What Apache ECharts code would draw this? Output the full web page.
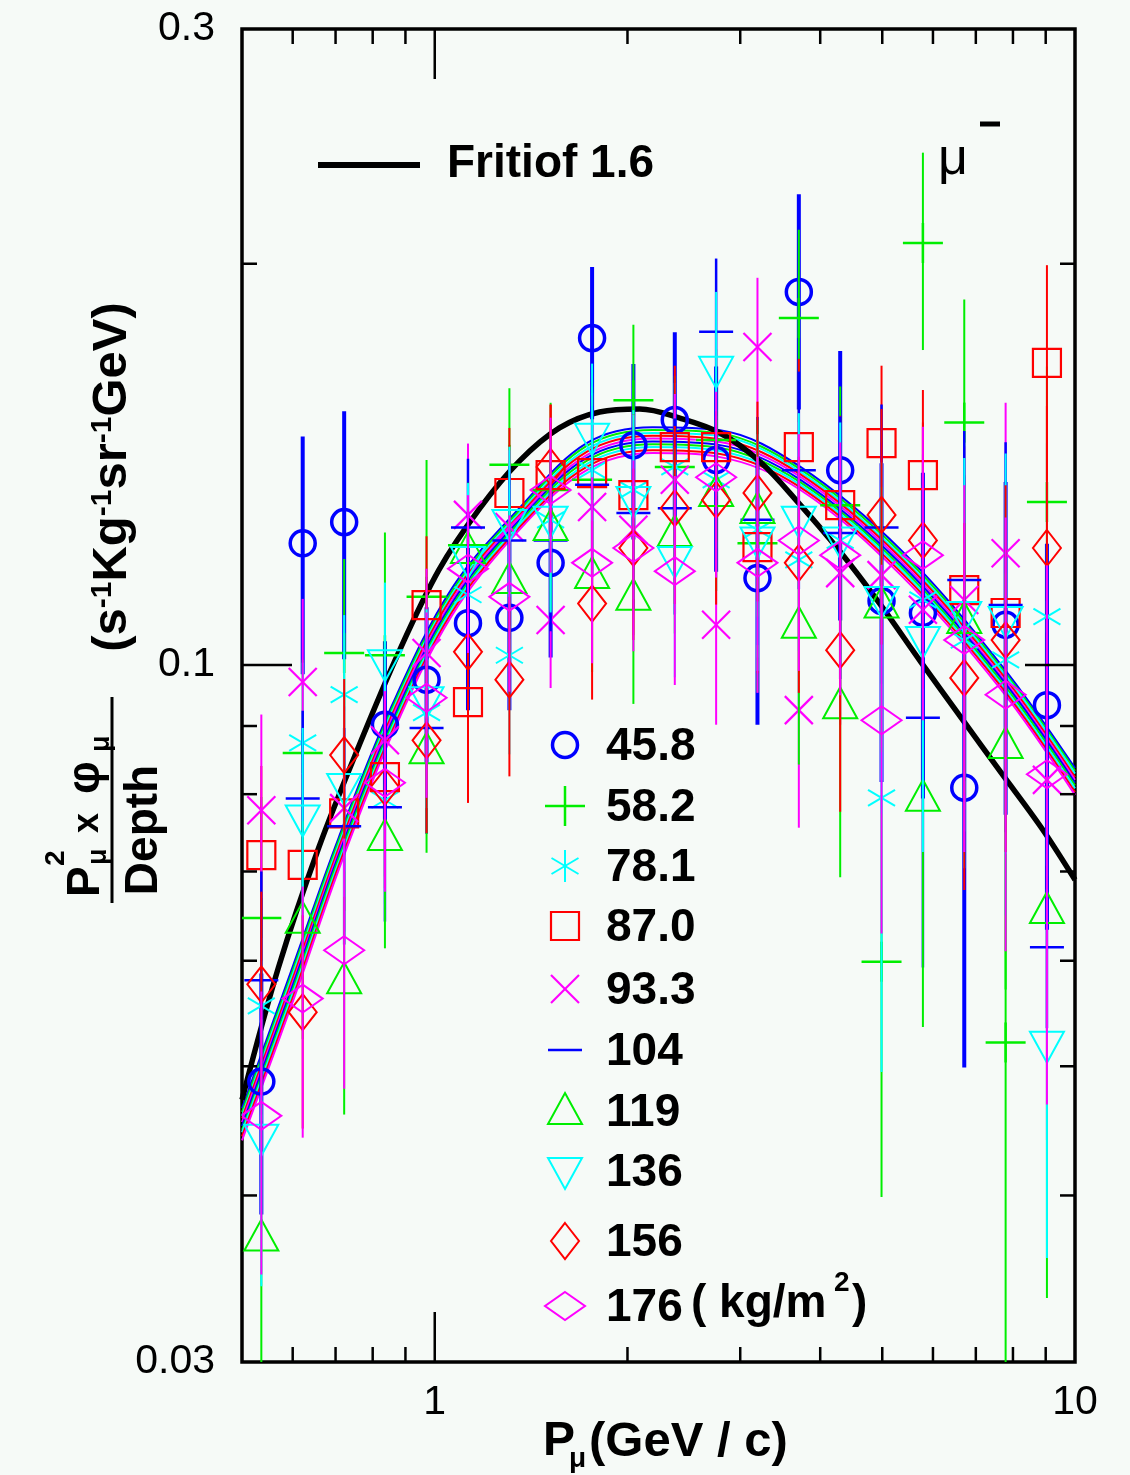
<!DOCTYPE html>
<html>
<head>
<meta charset="utf-8">
<script src="https://cdn.jsdelivr.net/npm/echarts@6/dist/echarts.min.js"></script>
<style>
  html, body { margin: 0; padding: 0; background: #f6faf7; }
  #chart { width: 1130px; height: 1475px; }
</style>
</head>
<body>
<div id="chart"></div>
<script>
// ---- momentum bins (GeV/c) shared by every atmospheric depth ----
const momenta = [0.536, 0.622, 0.722, 0.836, 0.971, 1.127, 1.308, 1.517, 1.761, 2.043,
                 2.371, 2.751, 3.192, 3.704, 4.298, 4.987, 5.787, 6.715, 7.792, 9.04];

// ---- atmospheric depths (kg/m^2) ----
const depths = ['45.8', '58.2', '78.1', '87.0', '93.3', '104', '119', '136', '156', '176'];

// ---- measured P^2 x flux / depth and errors, one pair per depth ----
const val458 = [0.0487, 0.1234, 0.1280, 0.0902, 0.0975, 0.1075, 0.1085, 0.1193, 0.1759, 0.1462, 0.1527, 0.1425, 0.1162, 0.1905, 0.1400, 0.1117, 0.1094, 0.0809, 0.1072, 0.0933];
const err458 = [0.010, 0.025, 0.027, 0.014, 0.013, 0.015, 0.016, 0.018, 0.023, 0.022, 0.025, 0.025, 0.026, 0.035, 0.032, 0.030, 0.030, 0.031, 0.030, 0.030];

const val582 = [0.0646, 0.0859, 0.1021, 0.1017, 0.1125, 0.1230, 0.1413, 0.1353, 0.1377, 0.1580, 0.1408, 0.1475, 0.1234, 0.1821, 0.1318, 0.0599, 0.2073, 0.1520, 0.0521, 0.1325];
const err582 = [0.015, 0.015, 0.018, 0.024, 0.030, 0.020, 0.020, 0.022, 0.024, 0.022, 0.024, 0.025, 0.028, 0.030, 0.030, 0.020, 0.035, 0.036, 0.030, 0.035];

const val781 = [0.0555, 0.0874, 0.0950, 0.0792, 0.0921, 0.1129, 0.1017, 0.1285, 0.1400, 0.1353, 0.1408, 0.1377, 0.1263, 0.1199, 0.1240, 0.0795, 0.1119, 0.1044, 0.1009, 0.1087];
const err781 = [0.010, 0.013, 0.014, 0.013, 0.014, 0.016, 0.016, 0.018, 0.020, 0.020, 0.022, 0.024, 0.025, 0.027, 0.028, 0.030, 0.032, 0.034, 0.036, 0.038];

const val870 = [0.0720, 0.0708, 0.0774, 0.0824, 0.1109, 0.0938, 0.1346, 0.1388, 0.1393, 0.1341, 0.1457, 0.1457, 0.1226, 0.1457, 0.1318, 0.1467, 0.1388, 0.1138, 0.1094, 0.1685];
const err870 = [0.012, 0.012, 0.012, 0.013, 0.014, 0.015, 0.016, 0.018, 0.020, 0.020, 0.022, 0.022, 0.024, 0.024, 0.022, 0.021, 0.022, 0.025, 0.028, 0.031];

const val933 = [0.0778, 0.0971, 0.0781, 0.0878, 0.1021, 0.1296, 0.1269, 0.1081, 0.1314, 0.1263, 0.1377, 0.1072, 0.1732, 0.0925, 0.1172, 0.1168, 0.1100, 0.1119, 0.1213, 0.0820];
const err933 = [0.014, 0.015, 0.015, 0.015, 0.016, 0.017, 0.018, 0.012, 0.020, 0.021, 0.022, 0.017, 0.022, 0.017, 0.027, 0.030, 0.032, 0.034, 0.036, 0.038];

const val104 = [0.0580, 0.0794, 0.0757, 0.0782, 0.0897, 0.1268, 0.1240, 0.1240, 0.1365, 0.1300, 0.1311, 0.1778, 0.1285, 0.1400, 0.1256, 0.1268, 0.0913, 0.1158, 0.1109, 0.0614];
const err104 = [0.012, 0.013, 0.014, 0.014, 0.015, 0.016, 0.017, 0.018, 0.020, 0.020, 0.022, 0.024, 0.025, 0.026, 0.028, 0.030, 0.032, 0.034, 0.036, 0.008];

const val119 = [0.0372, 0.0644, 0.0580, 0.0743, 0.0863, 0.1220, 0.1158, 0.1269, 0.1168, 0.1125, 0.1256, 0.1346, 0.1307, 0.1072, 0.0933, 0.1110, 0.0795, 0.1081, 0.0871, 0.0655];
const err119 = [0.010, 0.012, 0.012, 0.013, 0.014, 0.015, 0.016, 0.017, 0.018, 0.019, 0.020, 0.021, 0.022, 0.023, 0.024, 0.025, 0.026, 0.028, 0.030, 0.032];

const val136 = [0.0442, 0.0767, 0.0810, 0.1003, 0.0941, 0.1199, 0.1278, 0.1285, 0.1483, 0.1330, 0.1199, 0.1665, 0.1240, 0.1285, 0.1240, 0.1119, 0.1044, 0.1090, 0.1081, 0.0519];
const err136 = [0.010, 0.013, 0.014, 0.015, 0.016, 0.017, 0.018, 0.019, 0.020, 0.021, 0.022, 0.024, 0.025, 0.026, 0.028, 0.030, 0.032, 0.034, 0.036, 0.016];

const val156 = [0.0576, 0.0549, 0.0856, 0.0810, 0.0878, 0.1023, 0.0975, 0.1408, 0.1112, 0.1224, 0.1311, 0.1330, 0.1346, 0.1193, 0.1026, 0.1296, 0.1240, 0.0978, 0.1044, 0.1224];
const err156 = [0.010, 0.010, 0.012, 0.013, 0.013, 0.014, 0.015, 0.016, 0.017, 0.018, 0.020, 0.022, 0.023, 0.024, 0.025, 0.026, 0.028, 0.030, 0.032, 0.034];

const val176 = [0.0459, 0.0562, 0.0611, 0.0816, 0.0945, 0.1181, 0.1125, 0.1353, 0.1193, 0.1224, 0.1176, 0.1383, 0.1193, 0.1240, 0.1209, 0.0909, 0.1209, 0.1044, 0.0950, 0.0828];
const err176 = [0.011, 0.012, 0.013, 0.014, 0.015, 0.016, 0.017, 0.018, 0.019, 0.020, 0.021, 0.022, 0.024, 0.025, 0.026, 0.028, 0.030, 0.032, 0.034, 0.036];

// ---- Fritiof 1.6 prediction ----
const fritiofMomenta = [0.5, 0.570, 0.6586, 0.7609, 0.879, 1.0157, 1.1735, 1.3557, 1.566, 1.809, 2.09,
                        2.415, 2.791, 3.225, 3.726, 4.304, 4.974, 5.746, 6.639, 7.671, 8.862, 10];
const fritiofFlux = [0.0472, 0.0593, 0.0729, 0.0869, 0.1023, 0.1179, 0.1309, 0.1422, 0.1506, 0.1548, 0.1556,
                     0.1532, 0.1493, 0.1420, 0.1318, 0.1215, 0.1109, 0.1005, 0.0913, 0.0830, 0.0755, 0.0690];

// ---- model curves for each depth ----
const modelMomenta = [0.5, 0.6017, 0.7079, 0.857, 1.0644, 1.3557, 1.727, 2.191, 2.791, 3.726, 5.346, 7.671, 10];
const model458 = [0.0465, 0.0596, 0.0742, 0.0932, 0.1142, 0.1311, 0.1467, 0.1508, 0.1500, 0.1408, 0.1220, 0.1000, 0.0837];
const model582 = [0.0462, 0.0592, 0.0738, 0.0927, 0.1136, 0.1306, 0.1460, 0.1501, 0.1492, 0.1402, 0.1214, 0.0995, 0.0833];
const model781 = [0.0459, 0.0588, 0.0733, 0.0922, 0.1130, 0.1300, 0.1452, 0.1493, 0.1485, 0.1396, 0.1208, 0.0991, 0.0829];
const model870 = [0.0457, 0.0584, 0.0729, 0.0917, 0.1125, 0.1295, 0.1445, 0.1486, 0.1477, 0.1390, 0.1203, 0.0986, 0.0824];
const model933 = [0.0454, 0.0580, 0.0724, 0.0912, 0.1119, 0.1290, 0.1437, 0.1479, 0.1470, 0.1384, 0.1197, 0.0981, 0.0820];
const model104 = [0.0451, 0.0577, 0.0720, 0.0906, 0.1113, 0.1284, 0.1430, 0.1471, 0.1462, 0.1377, 0.1191, 0.0977, 0.0816];
const model119 = [0.0448, 0.0573, 0.0716, 0.0901, 0.1107, 0.1279, 0.1423, 0.1464, 0.1455, 0.1371, 0.1185, 0.0972, 0.0812];
const model136 = [0.0446, 0.0569, 0.0711, 0.0896, 0.1102, 0.1274, 0.1415, 0.1457, 0.1447, 0.1365, 0.1180, 0.0967, 0.0808];
const model156 = [0.0443, 0.0565, 0.0707, 0.0891, 0.1096, 0.1268, 0.1408, 0.1449, 0.1440, 0.1359, 0.1174, 0.0963, 0.0803];
const model176 = [0.0440, 0.0561, 0.0702, 0.0886, 0.1090, 0.1263, 0.1400, 0.1442, 0.1432, 0.1353, 0.1168, 0.0958, 0.0799];

// ---- axis ticks and labels ----
const xMajorTicks = [1];
const xMinorTicks = [0.6, 0.7, 0.8, 0.9, 2, 3, 4, 5, 6, 7, 8, 9];
const yMajorTicks = [0.1];
const yMinorTicks = [0.04, 0.05, 0.06, 0.07, 0.08, 0.09, 0.2];
const xTickLabels = [1, 10];
const yTickLabels = [0.03, 0.1, 0.3];

const FONT = '"Liberation Sans", Arial, Helvetica, sans-serif';
const BLUE = '#0000ff', GREEN = '#00ee00', CYAN = '#00ffff', RED = '#ff0000', MAGENTA = '#ff00ff';

// one entry per depth: data arrays plus drawing style
const sets = [
  { name: depths[0], values: val458, errors: err458, model: model458, color: BLUE,    marker: 'circle',      bar: 4 },
  { name: depths[1], values: val582, errors: err582, model: model582, color: GREEN,   marker: 'plus',        bar: 2 },
  { name: depths[2], values: val781, errors: err781, model: model781, color: CYAN,    marker: 'asterisk',    bar: 2 },
  { name: depths[3], values: val870, errors: err870, model: model870, color: RED,     marker: 'square',      bar: 2 },
  { name: depths[4], values: val933, errors: err933, model: model933, color: MAGENTA, marker: 'cross',       bar: 2 },
  { name: depths[5], values: val104, errors: err104, model: model104, color: BLUE,    marker: 'dash',        bar: 2.5 },
  { name: depths[6], values: val119, errors: err119, model: model119, color: GREEN,   marker: 'triUp',       bar: 2 },
  { name: depths[7], values: val136, errors: err136, model: model136, color: CYAN,    marker: 'triDown',     bar: 2 },
  { name: depths[8], values: val156, errors: err156, model: model156, color: RED,     marker: 'diamondTall', bar: 2 },
  { name: depths[9], values: val176, errors: err176, model: model176, color: MAGENTA, marker: 'diamondWide', bar: 2 }
];

function seg(x1, y1, x2, y2, color, lw) {
  return { type: 'line', shape: { x1, y1, x2, y2 }, style: { stroke: color, lineWidth: lw } };
}
function poly(points, color, lw) {
  return { type: 'polygon', shape: { points }, style: { stroke: color, fill: 'none', lineWidth: lw } };
}

// marker glyphs drawn as zrender elements (used by the plot and the key)
function markerShapes(kind, cx, cy, color) {
  switch (kind) {
    case 'circle':
      return [{ type: 'circle', shape: { cx, cy, r: 12.5 }, style: { stroke: color, fill: 'none', lineWidth: 3.5 } }];
    case 'plus':
      return [seg(cx - 20, cy, cx + 20, cy, color, 2.5), seg(cx, cy - 20, cx, cy + 20, color, 2.5)];
    case 'asterisk':
      return [seg(cx, cy - 16, cx, cy + 16, color, 2),
              seg(cx - 13.5, cy - 8, cx + 13.5, cy + 8, color, 2),
              seg(cx - 13.5, cy + 8, cx + 13.5, cy - 8, color, 2)];
    case 'square':
      return [{ type: 'rect', shape: { x: cx - 14, y: cy - 14, width: 28, height: 28 }, style: { stroke: color, fill: 'none', lineWidth: 2.2 } }];
    case 'cross':
      return [seg(cx - 14, cy - 14, cx + 14, cy + 14, color, 2.2), seg(cx - 14, cy + 14, cx + 14, cy - 14, color, 2.2)];
    case 'dash':
      return [seg(cx - 17, cy, cx + 17, cy, color, 2.5)];
    case 'triUp':
      return [poly([[cx, cy - 18], [cx + 17, cy + 13], [cx - 17, cy + 13]], color, 2)];
    case 'triDown':
      return [poly([[cx, cy + 18], [cx + 17, cy - 13], [cx - 17, cy - 13]], color, 2)];
    case 'diamondTall':
      return [poly([[cx, cy - 18], [cx + 14, cy], [cx, cy + 18], [cx - 14, cy]], color, 2)];
    case 'diamondWide':
      return [poly([[cx, cy - 14], [cx + 20, cy], [cx, cy + 14], [cx - 20, cy]], color, 2)];
  }
  return [];
}

// data points with vertical error bars
function dataSeries(set) {
  return {
    type: 'custom',
    name: set.name,
    clip: true,
    z: 5,
    encode: { x: 0, y: 1 },
    data: momenta.map((p, i) => [p, set.values[i], set.errors[i]]),
    renderItem(params, api) {
      const x = api.value(0), y = api.value(1), e = api.value(2);
      const c = api.coord([x, y]);
      const top = api.coord([x, y + e]);
      const bot = api.coord([x, Math.max(y - e, 1e-4)]);
      const children = [seg(c[0], top[1], c[0], bot[1], set.color, set.bar)]
        .concat(markerShapes(set.marker, c[0], c[1], set.color));
      return { type: 'group', children };
    }
  };
}

// inward tick marks on opposite sides of the frame
function tickSeries(values, dir, len) {
  return {
    type: 'custom',
    silent: true,
    clip: false,
    z: 10,
    data: values.map(v => dir === 'x' ? [v, 0.1] : [1, v]),
    renderItem(params, api) {
      const p = api.coord([api.value(0), api.value(1)]);
      const cs = params.coordSys;
      if (dir === 'x') {
        return { type: 'group', children: [
          seg(p[0], cs.y + cs.height, p[0], cs.y + cs.height - len, '#000', 2.5),
          seg(p[0], cs.y, p[0], cs.y + len, '#000', 2.5)
        ] };
      }
      return { type: 'group', children: [
        seg(cs.x, p[1], cs.x + len, p[1], '#000', 2.5),
        seg(cs.x + cs.width, p[1], cs.x + cs.width - len, p[1], '#000', 2.5)
      ] };
    }
  };
}

function pickLabel(v, list) {
  for (const l of list) {
    if (Math.abs(Math.log10(v / l)) < 0.01) return String(l);
  }
  return '';
}

const series = [];
sets.forEach(s => {
  series.push({
    type: 'line', name: s.name + ' model', silent: true, z: 2,
    data: modelMomenta.map((p, i) => [p, s.model[i]]),
    showSymbol: false, smooth: 0.35,
    lineStyle: { color: s.color, width: 2 }
  });
});
series.push({
  type: 'line', name: 'Fritiof 1.6', silent: true, z: 3,
  data: fritiofMomenta.map((p, i) => [p, fritiofFlux[i]]),
  showSymbol: false, smooth: 0.35,
  lineStyle: { color: '#000', width: 5.5 }
});
sets.forEach(s => series.push(dataSeries(s)));
series.push(tickSeries(xMajorTicks, 'x', 50));
series.push(tickSeries(xMinorTicks, 'x', 15));
series.push(tickSeries(yMajorTicks, 'y', 50));
series.push(tickSeries(yMinorTicks, 'y', 15));

// key: marker + depth label
const keyX = 565, keyTextX = 606;
const keyY = [745, 806, 866, 926, 989, 1050, 1111, 1171, 1241, 1306];
const keyElements = [];
sets.forEach((s, i) => {
  markerShapes(s.marker, keyX, keyY[i], s.color).forEach(el => keyElements.push(el));
  keyElements.push({
    type: 'text', x: keyTextX, y: keyY[i] + 2,
    style: { text: s.name, font: 'bold 46px ' + FONT, fill: '#000', textAlign: 'left', textVerticalAlign: 'middle' }
  });
});
keyElements.push({ type: 'text', x: 691, y: 1304,
  style: { text: '( kg/m', font: 'bold 46px ' + FONT, fill: '#000', textAlign: 'left', textVerticalAlign: 'middle' } });
keyElements.push({ type: 'text', x: 834, y: 1283,
  style: { text: '2', font: 'bold 28px ' + FONT, fill: '#000', textAlign: 'left', textVerticalAlign: 'middle' } });
keyElements.push({ type: 'text', x: 852, y: 1304,
  style: { text: ')', font: 'bold 46px ' + FONT, fill: '#000', textAlign: 'left', textVerticalAlign: 'middle' } });

const titleElements = [
  // Fritiof key
  seg(318, 165, 420, 165, '#000', 6),
  { type: 'text', x: 447, y: 164,
    style: { text: 'Fritiof 1.6', font: 'bold 46px ' + FONT, fill: '#000', textAlign: 'left', textVerticalAlign: 'middle' } },
  // particle tag
  { type: 'text', x: 938, y: 160,
    style: { text: 'μ', font: '52px ' + FONT, fill: '#000', textAlign: 'left', textVerticalAlign: 'middle' } },
  seg(980, 124, 1000, 124, '#000', 5),
  // x-axis title
  { type: 'text', x: 543, y: 1442,
    style: { text: 'P', font: 'bold 48px ' + FONT, fill: '#000', textAlign: 'left', textVerticalAlign: 'middle' } },
  { type: 'text', x: 569, y: 1459,
    style: { text: 'μ', font: 'bold 28px ' + FONT, fill: '#000', textAlign: 'left', textVerticalAlign: 'middle' } },
  { type: 'text', x: 589, y: 1442,
    style: { text: '(GeV / c)', font: 'bold 49px ' + FONT, fill: '#000', textAlign: 'left', textVerticalAlign: 'middle' } },
  // y-axis units
  { type: 'text', x: 112, y: 477, rotation: Math.PI / 2,
    style: {
      text: '(s{sup|-1}Kg{sup|-1}sr{sup|-1}GeV)',
      font: 'bold 49px ' + FONT, fill: '#000', textAlign: 'center', textVerticalAlign: 'middle',
      rich: { sup: { font: 'bold 30px ' + FONT, fill: '#000', verticalAlign: 'top' } }
    } },
  // y-axis fraction
  { type: 'group', x: 112, y: 800, rotation: Math.PI / 2, children: [
    seg(-103, 0, 103, 0, '#000', 3),
    { type: 'text', x: -97, y: -3, style: { text: 'P', font: 'bold 46px ' + FONT, fill: '#000', textAlign: 'left', textVerticalAlign: 'bottom' } },
    { type: 'text', x: -66, y: -42, style: { text: '2', font: 'bold 28px ' + FONT, fill: '#000', textAlign: 'left', textVerticalAlign: 'bottom' } },
    { type: 'text', x: -65, y: 0, style: { text: 'μ', font: 'bold 27px ' + FONT, fill: '#000', textAlign: 'left', textVerticalAlign: 'bottom' } },
    { type: 'text', x: -33, y: -6, style: { text: 'x', font: 'bold 36px ' + FONT, fill: '#000', textAlign: 'left', textVerticalAlign: 'bottom' } },
    { type: 'text', x: 6, y: -3, style: { text: 'φ', font: 'bold 46px ' + FONT, fill: '#000', textAlign: 'left', textVerticalAlign: 'bottom' } },
    { type: 'text', x: 48, y: 3, style: { text: 'μ', font: 'bold 27px ' + FONT, fill: '#000', textAlign: 'left', textVerticalAlign: 'bottom' } },
    { type: 'text', x: -30, y: 9, style: { text: 'Depth', font: 'bold 46px ' + FONT, fill: '#000', textAlign: 'center', textVerticalAlign: 'top' } }
  ] }
];

const chart = echarts.init(document.getElementById('chart'), null, { renderer: 'canvas' });
chart.setOption({
  backgroundColor: '#f6faf7',
  animation: false,
  grid: { left: 242, right: 55, top: 29, bottom: 113, show: true, borderColor: '#000', borderWidth: 3.5, backgroundColor: 'transparent' },
  xAxis: {
    type: 'log', logBase: 10, min: 0.5, max: 10,
    axisLine: { show: false }, axisTick: { show: false }, splitLine: { show: false },
    axisLabel: {
      show: true, color: '#000', fontSize: 41, fontFamily: FONT, margin: 20,
      showMinLabel: true, showMaxLabel: true,
      formatter: v => pickLabel(v, xTickLabels)
    }
  },
  yAxis: {
    type: 'log', logBase: 10, min: 0.03, max: 0.3,
    axisLine: { show: false }, axisTick: { show: false }, splitLine: { show: false },
    axisLabel: {
      show: true, color: '#000', fontSize: 41, fontFamily: FONT, margin: 27,
      showMinLabel: true, showMaxLabel: true,
      formatter: v => pickLabel(v, yTickLabels)
    }
  },
  graphic: { elements: titleElements.concat(keyElements) },
  series
});
</script>
</body>
</html>
